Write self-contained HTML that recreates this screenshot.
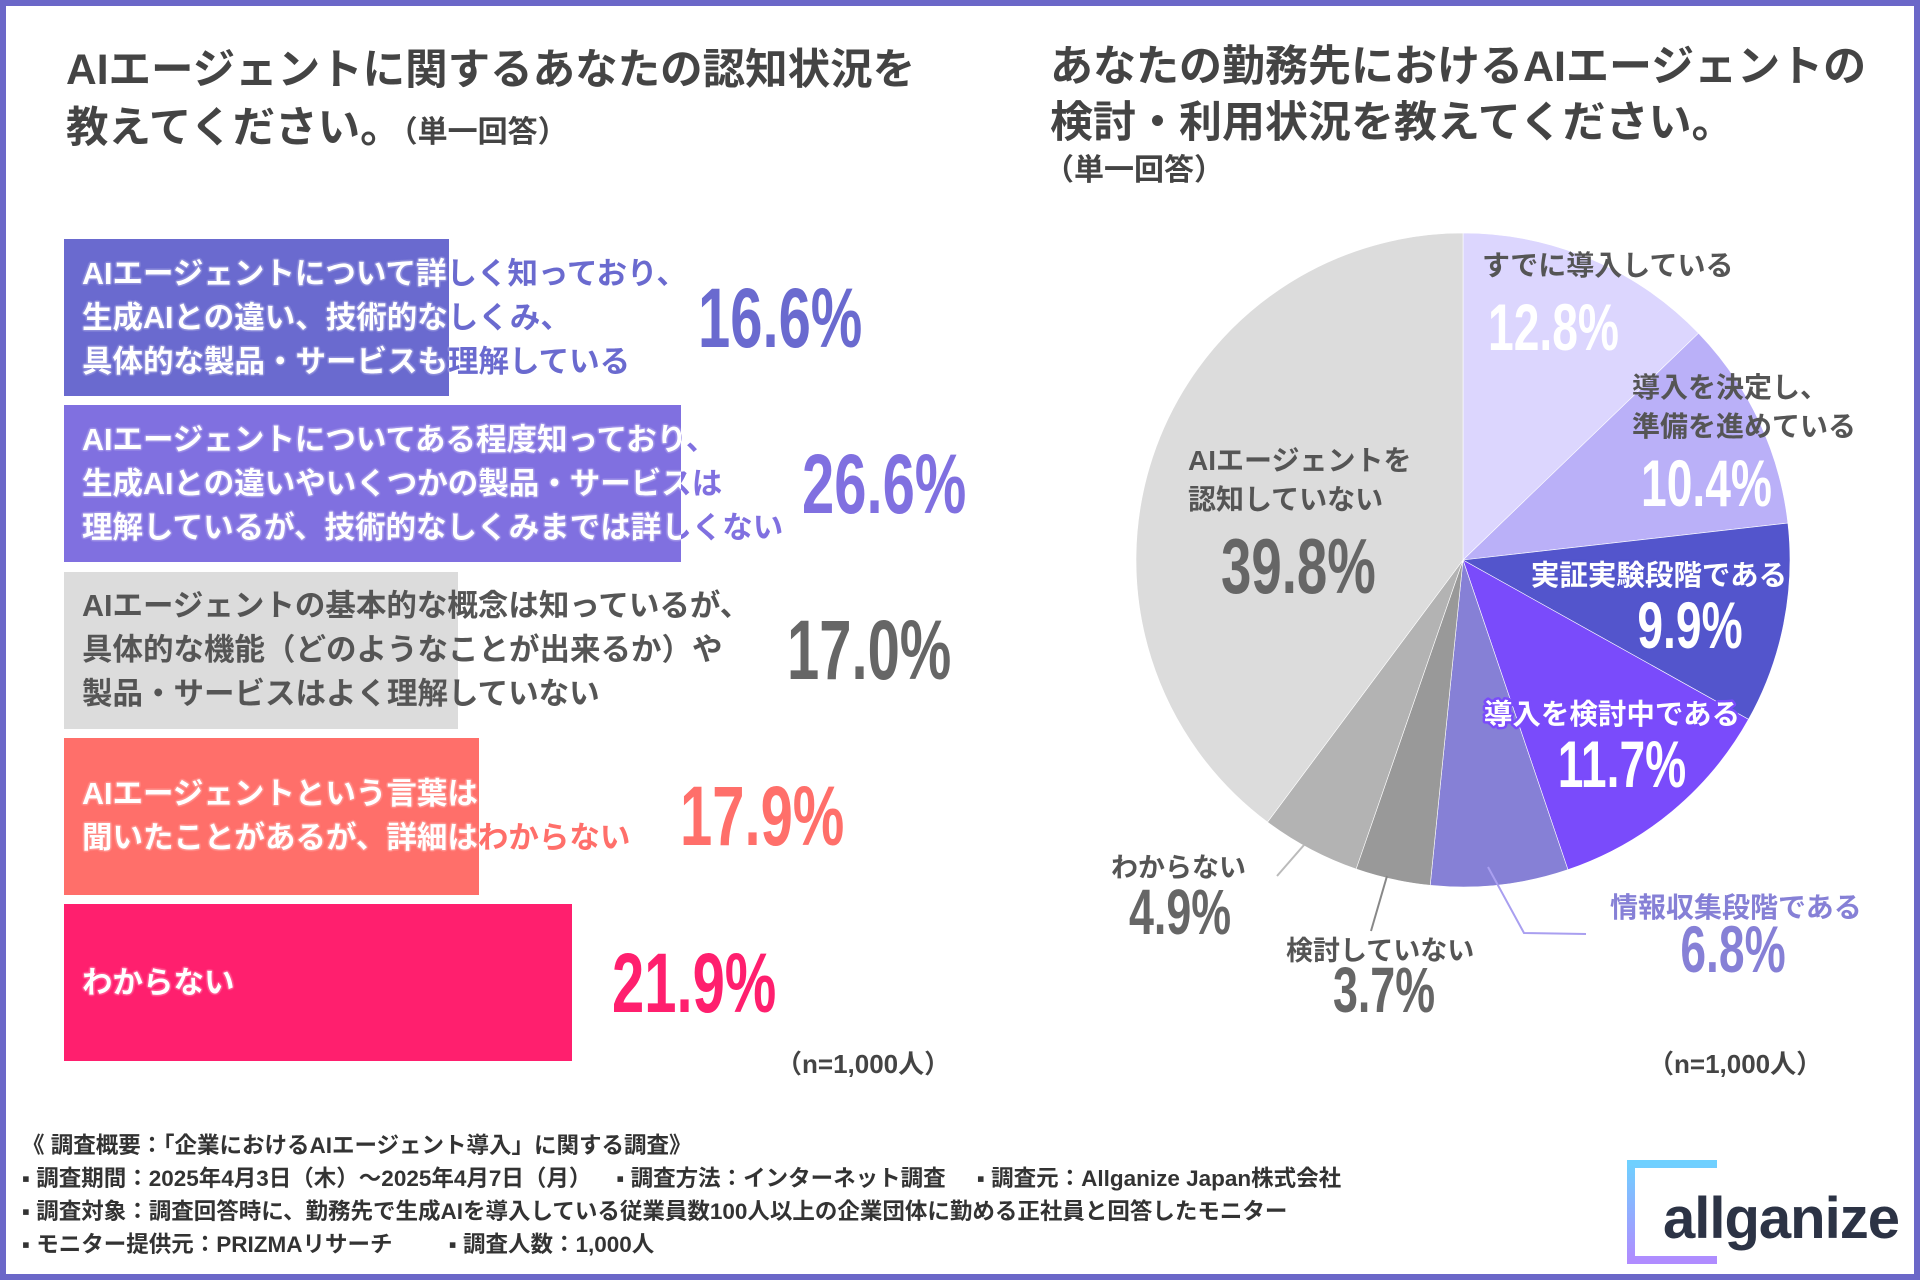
<!DOCTYPE html>
<html><head><meta charset="utf-8">
<style>
html,body{margin:0;padding:0;}
body{width:1920px;height:1280px;position:relative;overflow:hidden;background:#fff;font-family:"Liberation Sans","Noto Sans CJK JP",sans-serif;}
.frame{position:absolute;left:0;top:0;width:1908px;height:1268px;border:6px solid #6b67c8;}
.t{position:absolute;font-weight:bold;color:#444;white-space:nowrap;}
.bar{position:absolute;left:64px;}
.lbl{position:absolute;left:18px;font-size:30.5px;font-weight:bold;line-height:44px;white-space:nowrap;}
.pct{position:absolute;font-family:"Liberation Sans",sans-serif;font-weight:bold;font-size:84px;line-height:1;white-space:nowrap;transform:scaleX(0.69);transform-origin:0 50%;}
.foot{position:absolute;left:22px;font-size:22.5px;font-weight:bold;color:#333;white-space:pre;}
</style></head>
<body>
<div class="frame"></div>

<div class="t" style="left:66px;top:36px;font-size:42.5px;">AIエージェントに関するあなたの認知状況を</div>
<div class="t" style="left:66px;top:94px;font-size:42.5px;">教えてください。<span style="font-size:30px">（単一回答）</span></div>

<div class="t" style="left:1050px;top:32px;font-size:43px;">あなたの勤務先におけるAIエージェントの</div>
<div class="t" style="left:1050px;top:88px;font-size:43px;">検討・利用状況を教えてください。</div>
<div class="t" style="left:1044px;top:145px;font-size:30px;">（単一回答）</div>

<div id="bars"></div>

<svg id="pie" width="1920" height="1280" style="position:absolute;left:0;top:0"></svg>

<div class="t" style="left:776px;top:1044px;font-size:26px;color:#444">（n=1,000人）</div>
<div class="t" style="left:1648px;top:1044px;font-size:26px;color:#444">（n=1,000人）</div>

<div class="foot" style="top:1128px">《 調査概要：「企業におけるAIエージェント導入」に関する調査》</div>
<div class="foot" style="top:1161px">▪ 調査期間：2025年4月3日（木）～2025年4月7日（月）    ▪ 調査方法：インターネット調査     ▪ 調査元：Allganize Japan株式会社</div>
<div class="foot" style="top:1194px">▪ 調査対象：調査回答時に、勤務先で生成AIを導入している従業員数100人以上の企業団体に勤める正社員と回答したモニター</div>
<div class="foot" style="top:1227px">▪ モニター提供元：PRIZMAリサーチ         ▪ 調査人数：1,000人</div>

<svg style="position:absolute;left:1625px;top:1160px" width="280" height="105">
<defs><linearGradient id="lg" x1="0" y1="0" x2="0" y2="1"><stop offset="0" stop-color="#6fd0ff"/><stop offset="1" stop-color="#b08cff"/></linearGradient></defs>
<path d="M92 4 H6 V100 H92" fill="none" stroke="url(#lg)" stroke-width="8"/>
<text x="38" y="78" font-family="Liberation Sans, sans-serif" font-weight="bold" font-size="58" fill="#2c3345" letter-spacing="-1">allganize</text>
</svg>

<script>
// ---- bar chart data ----
const barCategories = [
 ["AIエージェントについて詳しく知っており、","生成AIとの違い、技術的なしくみ、","具体的な製品・サービスも理解している"],
 ["AIエージェントについてある程度知っており、","生成AIとの違いやいくつかの製品・サービスは","理解しているが、技術的なしくみまでは詳しくない"],
 ["AIエージェントの基本的な概念は知っているが、","具体的な機能（どのようなことが出来るか）や","製品・サービスはよく理解していない"],
 ["AIエージェントという言葉は","聞いたことがあるが、詳細はわからない"],
 ["わからない"]
];
const barValues = [16.6, 26.6, 17.0, 17.9, 21.9];
const barLabels = ["16.6%","26.6%","17.0%","17.9%","21.9%"];

const barColors = ["#6a6acf","#8070e0","#dcdcdc","#ff6f6a","#ff1f6e"];
const pxPerPct = 23.2, barTop0 = 239, barH = 157, barStep = 166.3;
const xScale = v => v * pxPerPct;
const bars = document.getElementById('bars');
barValues.forEach((v,i)=>{
  const y = barTop0 + i*barStep;
  const w = xScale(v);
  const b = document.createElement('div');
  b.className='bar';
  
  
  b.style.cssText=`top:${y}px;height:${barH}px;width:${w}px;background:${barColors[i]};`;
  bars.appendChild(b);
  const lines = barCategories[i];
  const lh = 44, th = lines.length*lh, ty = y + (barH-th)/2;
  const gray = i===2;
  const outer = document.createElement('div');
  outer.className='lbl';
  
  
  outer.style.cssText=`left:82px;top:${ty}px;color:${gray?'#555':barColors[i]};`+(gray?'':'text-shadow:0 0 2px #fff,0 0 2px #fff;');
  outer.innerHTML=lines.join('<br>');
  document.body.appendChild(outer);
  if(!gray){
    const clip=document.createElement('div');
    clip.style.cssText=`position:absolute;left:82px;top:${ty}px;width:${64+w-82}px;height:${th}px;overflow:hidden;`;
    
    
    const inner=document.createElement('div');
    inner.className='lbl';
    inner.style.cssText=`left:0;top:0;color:#fff;text-shadow:0 0 2px ${barColors[i]},0 0 2px ${barColors[i]};`;
    inner.innerHTML=lines.join('<br>');
    clip.appendChild(inner);
    document.body.appendChild(clip);
  }
  const p=document.createElement('div');
  p.className='pct';
  
  
  const lx = Math.max(64+w+40, [698,802,787,680,609][i]);
  p.style.cssText=`left:${lx}px;top:${y+barH/2-42}px;color:${gray?'#666':barColors[i]};`;
  p.textContent=barLabels[i];
  document.body.appendChild(p);
});

// ---- pie chart data ----
const pieCategories = ["すでに導入している","導入を決定し、準備を進めている","実証実験段階である","導入を検討中である","情報収集段階である","検討していない","わからない","AIエージェントを認知していない"];
const pieValues = [12.8, 10.4, 9.9, 11.7, 6.8, 3.7, 4.9, 39.8];
const pieLabels = ["12.8%","10.4%","9.9%","11.7%","6.8%","3.7%","4.9%","39.8%"];

const pieColors = ["#dcd6fe","#bab0f8","#5355cc","#7a4bfb","#8680d6","#999999","#b3b3b3","#dcdcdc"];
const cx=1463, cy=560, R=327;
const NS='http://www.w3.org/2000/svg';
const svg=document.getElementById('pie');
const total=pieValues.reduce((a,b)=>a+b,0);
const angle = v => v/total*2*Math.PI;
let a0=0;
const pt=a=>[cx+R*Math.sin(a), cy-R*Math.cos(a)];
pieValues.forEach((v,i)=>{
  const a1=a0+angle(v);
  const [x0,y0]=pt(a0),[x1,y1]=pt(a1);
  const p=document.createElementNS(NS,'path');
  p.setAttribute('d',`M${cx},${cy} L${x0},${y0} A${R},${R} 0 ${a1-a0>Math.PI?1:0} 1 ${x1},${y1} Z`);
  p.setAttribute('fill',pieColors[i]);
  p.setAttribute('stroke','#fff');
  p.setAttribute('stroke-width','0.6');
  
  
  svg.appendChild(p);
  a0=a1;
});
// leader lines
[["M1277,876 L1304,845","#bbb"],["M1371,931 L1387,876","#888"],["M1488,867 L1524,933 L1586,934","#a99ff0"]].forEach((l,i)=>{
  const p=document.createElementNS(NS,'path');
  p.setAttribute('d',l[0]);p.setAttribute('stroke',l[1]);p.setAttribute('fill','none');p.setAttribute('stroke-width','2');
  
  
  svg.appendChild(p);
});
function txt(s,x,y,size,fill,anchor,narrow,stroke,name){
  const t=document.createElementNS(NS,'text');
  t.setAttribute('x',0);t.setAttribute('y',0);
  t.setAttribute('transform',`translate(${x},${y})`+(narrow?' scale(0.7,1)':''));
  t.setAttribute('font-size',size);t.setAttribute('fill',fill);
  t.setAttribute('font-weight','bold');
  t.setAttribute('text-anchor',anchor||'start');
  t.setAttribute('font-family','Liberation Sans, Noto Sans CJK JP, sans-serif');
  if(stroke){t.setAttribute('stroke',stroke);t.setAttribute('stroke-width','5');t.setAttribute('paint-order','stroke');t.setAttribute('stroke-linejoin','round');}
  t.textContent=s;
  
  
  svg.appendChild(t);
}
// category labels
txt("すでに導入している",1482,275,28,"#555","start",false,null,"pie-label-1");
txt("導入を決定し、",1632,397,28,"#555","start",false,null,"pie-label-2a");
txt("準備を進めている",1632,436,28,"#555","start",false,null,"pie-label-2b");
txt(pieCategories[2],1659,585,28.5,"#fff","middle",false,"#5355cc","pie-label-3");
txt(pieCategories[3],1612,724,28.5,"#fff","middle",false,"#7a4bfb","pie-label-4");
txt(pieCategories[4],1610,917,28,"#8680d6","start",false,null,"pie-label-5");
txt(pieCategories[5],1286,960,27,"#555","start",false,null,"pie-label-6");
txt(pieCategories[6],1111,877,27,"#555","start",false,null,"pie-label-7");
txt("AIエージェントを",1188,470,28,"#555","start",false,null,"pie-label-8a");
txt("認知していない",1188,509,28,"#555","start",false,null,"pie-label-8b");
// values
txt(pieLabels[0],1488,350,66,"#fff","start",true,null,"pie-value-1");
txt(pieLabels[1],1641,506,66,"#fff","start",true,null,"pie-value-2");
txt(pieLabels[2],1690,648,66,"#fff","middle",true,"#5355cc","pie-value-3");
txt(pieLabels[3],1622,787,66,"#fff","middle",true,"#7a4bfb","pie-value-4");
txt(pieLabels[4],1733,972,66,"#8680d6","middle",true,null,"pie-value-5");
txt(pieLabels[5],1384,1012,64,"#666","middle",true,null,"pie-value-6");
txt(pieLabels[6],1129,934,64,"#666","start",true,null,"pie-value-7");
txt(pieLabels[7],1221,593,78,"#666","start",true,null,"pie-value-8");
</script>
</body></html>
